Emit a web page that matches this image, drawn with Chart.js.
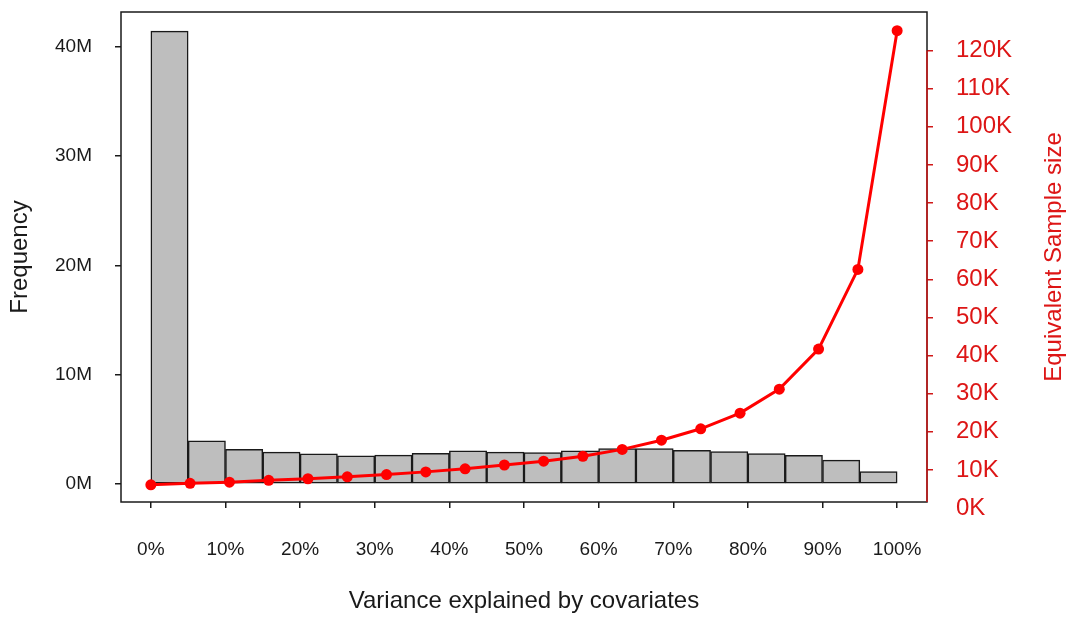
<!DOCTYPE html>
<html>
<head>
<meta charset="utf-8">
<script src="https://cdn.jsdelivr.net/npm/chart.js@4"></script>
<style>
  html, body { margin: 0; padding: 0; background: #fff; }
  #wrap { width: 1072px; height: 618px; }
</style>
</head>
<body>
<div id="wrap"><canvas id="chart" width="1072" height="618"></canvas></div>
<script>
// histogram bins (variance explained, %), bin width 5
const binStarts = [0, 5, 10, 15, 20, 25, 30, 35, 40, 45, 50, 55, 60, 65, 70, 75, 80, 85, 90, 95];
const binWidth = 5;
const frequency = [41.45e6, 3.93e6, 3.17e6, 2.90e6, 2.74e6, 2.56e6, 2.63e6, 2.79e6, 3.02e6, 2.90e6,
                   2.87e6, 3.02e6, 3.23e6, 3.23e6, 3.08e6, 2.96e6, 2.77e6, 2.62e6, 2.17e6, 1.13e6];

// equivalent sample size curve
const varianceLevels = [0, 5.26, 10.53, 15.79, 21.05, 26.32, 31.58, 36.84, 42.11, 47.37,
                        52.63, 57.89, 63.16, 68.42, 73.68, 78.95, 84.21, 89.47, 94.74, 100];
const sampleSize = [6100, 6500, 6800, 7300, 7700, 8200, 8800, 9500, 10300, 11300,
                    12300, 13600, 15400, 17800, 20800, 24900, 31200, 41700, 62600, 125200];

// tick labels
const pctTicks = [0, 10, 20, 30, 40, 50, 60, 70, 80, 90, 100];
const freqTicks = [0, 10e6, 20e6, 30e6, 40e6];
const sizeTicks = [0, 10000, 20000, 30000, 40000, 50000, 60000, 70000, 80000, 90000, 100000, 110000, 120000];

const FONT = "'Liberation Sans', Arial, sans-serif";
const INK = '#1a1a1a';
const RED = '#ff0000';
const RED_TEXT = '#dd1616';

function noPad(s) {
  s.paddingTop = 0; s.paddingBottom = 0; s.paddingLeft = 0; s.paddingRight = 0;
}

const frame = {
  id: 'frame',
  afterDraw(chart) {
    const { ctx, chartArea: a, scales } = chart;
    ctx.save();
    ctx.strokeStyle = INK;
    ctx.lineWidth = 1.5;
    ctx.strokeRect(a.left, a.top, a.right - a.left, a.bottom - a.top);
    // red right axis line
    ctx.strokeStyle = '#d01818';
    ctx.beginPath();
    ctx.moveTo(a.right, scales.y1.getPixelForValue(120000));
    ctx.lineTo(a.right, a.bottom);
    ctx.stroke();
    // right axis title, reading upwards
    ctx.translate(1054, (a.top + a.bottom) / 2);
    ctx.rotate(-Math.PI / 2);
    ctx.fillStyle = RED_TEXT;
    ctx.font = '24px ' + FONT;
    ctx.textAlign = 'center';
    ctx.textBaseline = 'middle';
    ctx.fillText('Equivalent Sample size', 0, 0);
    ctx.restore();
  }
};

new Chart(document.getElementById('chart'), {
  type: 'bar',
  data: {
    datasets: [
      {
        type: 'line',
        label: 'Equivalent Sample size',
        data: varianceLevels.map((v, i) => ({ x: v, y: sampleSize[i] })),
        yAxisID: 'y1',
        borderColor: RED,
        backgroundColor: RED,
        borderWidth: 3,
        pointRadius: 5.5,
        pointBackgroundColor: RED,
        pointBorderWidth: 0,
        tension: 0,
        order: 0
      },
      {
        label: 'Frequency',
        data: binStarts.map((b, i) => ({ x: b + binWidth / 2, y: frequency[i] })),
        yAxisID: 'y',
        backgroundColor: '#bebebe',
        borderColor: INK,
        borderWidth: 1.5,
        borderSkipped: false,
        barPercentage: 1,
        categoryPercentage: 1,
        grouped: false,
        order: 1
      }
    ]
  },
  options: {
    responsive: false,
    animation: false,
    devicePixelRatio: 1,
    layout: { autoPadding: false, padding: { top: 12, left: 0, right: 0, bottom: 0 } },
    plugins: { legend: { display: false }, tooltip: { enabled: false } },
    scales: {
      x: {
        type: 'linear',
        offset: false,
        min: -4,
        max: 104,
        afterBuildTicks: s => { s.ticks = pctTicks.map(v => ({ value: v })); },
        afterFit: s => { s.height = 116; noPad(s); },
        border: { display: false },
        grid: { offset: false, drawOnChartArea: false, tickLength: 6, tickColor: INK, lineWidth: 1.5 },
        ticks: { autoSkip: false, maxRotation: 0, padding: 30, color: INK,
                 font: { family: FONT, size: 19 }, callback: v => v + '%' },
        title: { display: true, text: 'Variance explained by covariates', color: INK,
                 font: { family: FONT, size: 24 }, padding: { top: 0, bottom: 2 } }
      },
      y: {
        position: 'left',
        min: -1.66e6,
        max: 43.2e6,
        afterBuildTicks: s => { s.ticks = freqTicks.map(v => ({ value: v })); },
        afterFit: s => { s.width = 121; noPad(s); },
        border: { display: false },
        grid: { drawOnChartArea: false, tickLength: 6, tickColor: INK, lineWidth: 1.5 },
        ticks: { autoSkip: false, padding: 23, color: INK,
                 font: { family: FONT, size: 19 }, callback: v => (v / 1e6) + 'M' },
        title: { display: true, text: 'Frequency', color: INK,
                 font: { family: FONT, size: 24 }, padding: { top: 6, bottom: 0 } }
      },
      y1: {
        position: 'right',
        min: 1600,
        max: 130100,
        afterBuildTicks: s => { s.ticks = sizeTicks.map(v => ({ value: v })); },
        afterFit: s => { s.width = 145; noPad(s); },
        border: { display: false },
        grid: { drawOnChartArea: false, tickLength: 6, lineWidth: 1.5,
                tickColor: c => (c.tick && c.tick.value === 0) ? 'rgba(0,0,0,0)' : '#d01818' },
        ticks: { autoSkip: false, padding: 23, color: RED_TEXT,
                 font: { family: FONT, size: 24 }, callback: v => (v / 1000) + 'K' }
      }
    }
  },
  plugins: [frame]
});
</script>
</body>
</html>
